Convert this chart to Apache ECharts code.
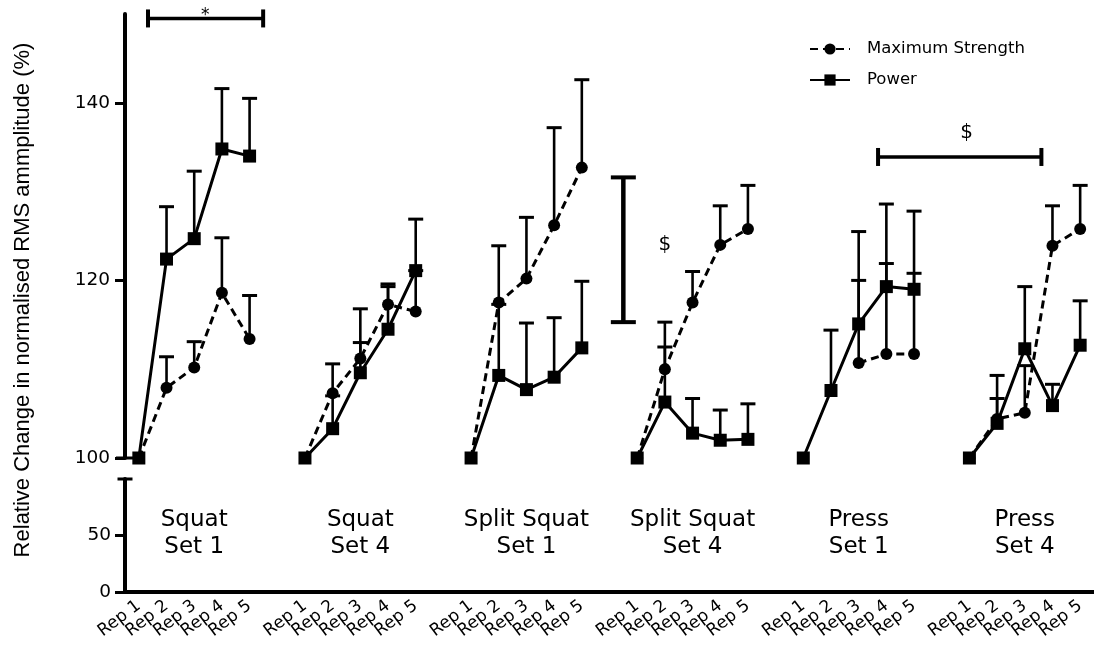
<!DOCTYPE html>
<html><head><meta charset="utf-8">
<script src="https://cdn.jsdelivr.net/npm/echarts@6/dist/echarts.min.js"></script>
<style>html,body{margin:0;padding:0;background:#fff}#c{width:1094px;height:647px}</style>
</head><body><div id="c"></div>
<script>
// ---------- data ----------
const repLabels = ['Rep 1','Rep 2','Rep 3','Rep 4','Rep 5'];
const groupNames = ['Squat\nSet 1','Squat\nSet 4','Split Squat\nSet 1','Split Squat\nSet 4','Press\nSet 1','Press\nSet 4'];
const msMean = [
  [100,107.9,110.2,118.6,113.4],
  [100,107.3,111.2,117.3,116.5],
  [100,117.5,120.2,126.2,132.7],
  [100,110.0,117.5,124.0,125.8],
  [null,null,110.7,111.7,111.7],
  [100,104.4,105.1,123.9,125.8]
];
const msUpper = [
  [null,111.4,113.1,124.8,118.3],
  [null,110.6,116.8,119.6,121.1],
  [null,123.9,127.1,137.2,142.6],
  [null,115.3,121.0,128.4,130.7],
  [null,null,120.0,121.9,120.8],
  [null,106.7,110.4,128.4,130.7]
];
const pwMean = [
  [100,122.4,124.7,134.8,134.0],
  [100,103.3,109.6,114.5,121.1],
  [100,109.3,107.7,109.1,112.4],
  [100,106.3,102.8,102.0,102.1],
  [100,107.6,115.1,119.3,119.0],
  [100,103.9,112.3,105.9,112.7]
];
const pwUpper = [
  [null,128.3,132.3,141.6,140.5],
  [null,107.0,113.0,119.3,126.9],
  [null,117.3,115.2,115.8,119.9],
  [null,112.5,106.7,105.4,106.1],
  [null,114.4,125.5,128.6,127.8],
  [null,109.3,119.3,108.3,117.7]
];
const upperTicks = [100,120,140];
const lowerTicks = [0,50];
// significance bars (x in category-index units, y in % units)
const sigStart = [0.33, 26.7];
const sigEnd = [4.49, 32.6];
const sigLevel = [149.5, 133.9];
const noteText = ['*','$','$'];
const noteX = [2.4, 29.9, 19];
const noteY = [149.8, 136.6, 124.0];
// vertical scale bar
const scaleBarX = 17.5;
const scaleBarLow = 115.3;
const scaleBarHigh = 131.6;
const groupLabelY = 52;

// ---------- build ----------
function flat(arr){const out=[];arr.forEach((g,i)=>{out.push(...g);if(i<arr.length-1)out.push(null);});return out;}
const categories = [];
groupNames.forEach((g,i)=>{categories.push(...repLabels); if(i<groupNames.length-1) categories.push('');});
const ms = flat(msMean), msU = flat(msUpper), pw = flat(pwMean), pwU = flat(pwUpper);
function errData(m,u){const d=[];m.forEach((v,i)=>{if(v!=null&&u[i]!=null)d.push([i,v,u[i]]);});return d;}
const groupLabelData = groupNames.map((n,i)=>[i*6+2, groupLabelY, n]);

const FONT = '"DejaVu Sans", Arial, sans-serif';
function errRender(params, api){
  const x=api.value(0), m=api.value(1), u=api.value(2);
  const p0=api.coord([x,m]), p1=api.coord([x,u]);
  const hw=7.5;
  return {type:'group',children:[
    {type:'line',shape:{x1:p0[0],y1:p0[1],x2:p1[0],y2:p1[1]},style:{stroke:'#000',lineWidth:2.6}},
    {type:'line',shape:{x1:p1[0]-hw,y1:p1[1],x2:p1[0]+hw,y2:p1[1]},style:{stroke:'#000',lineWidth:3}}
  ]};
}

const chart = echarts.init(document.getElementById('c'), null, {renderer:'canvas'});
chart.setOption({
  animation:false,
  backgroundColor:'#fff',
  textStyle:{fontFamily:FONT},
  grid:[
    {left:125, width:971, top:14, height:444},
    {left:125, width:971, top:479, height:113}
  ],
  legend:{
    data:['Maximum Strength','Power'],
    orient:'vertical', left:804, top:35,
    itemWidth:40, itemHeight:14, itemGap:13,
    textStyle:{fontFamily:FONT, fontSize:16.5, color:'#000', lineHeight:18, padding:[0,0,0,12]},
    inactiveColor:'#000'
  },
  xAxis:[
    {type:'category', gridIndex:0, data:categories, show:false},
    {type:'category', gridIndex:1, data:categories,
      axisLine:{onZero:false, lineStyle:{color:'#000', width:4}},
      axisTick:{alignWithLabel:true, length:9, lineStyle:{color:'#000', width:3},
        interval:(i)=>categories[i]!==''},
      axisLabel:{interval:0, rotate:37, fontFamily:FONT, fontSize:17, color:'#000', margin:12, hideOverlap:false}
    },
    {type:'value', gridIndex:0, min:-0.5, max:34.5, show:false}
  ],
  yAxis:[
    {type:'value', gridIndex:0, min:100, max:150, interval:10,
      splitLine:{show:false},
      axisLine:{show:true, onZero:false, lineStyle:{color:'#000', width:4}, symbol:['rect','none'], symbolSize:[18,3]},
      axisTick:{show:true, length:10, lineStyle:{color:'#000', width:3}, customValues:upperTicks},
      axisLabel:{fontFamily:FONT, fontSize:18.5, color:'#000', margin:15, customValues:upperTicks}
    },
    {type:'value', gridIndex:1, min:0, max:100, interval:50,
      splitLine:{show:false},
      axisLine:{show:true, onZero:false, lineStyle:{color:'#000', width:4}, symbol:['none','rect'], symbolSize:[15,3]},
      axisTick:{show:true, length:10, lineStyle:{color:'#000', width:3}, customValues:lowerTicks},
      axisLabel:{fontFamily:FONT, fontSize:18.5, color:'#000', margin:14, customValues:lowerTicks}
    }
  ],
  graphic:[
    {type:'text', x:23, y:300, rotation:Math.PI/2,
      style:{text:'Relative Change in normalised RMS ammplitude (%)', font:'22px "Liberation Sans", Arial, sans-serif',
        fill:'#000', textAlign:'center', textVerticalAlign:'middle', align:'center', verticalAlign:'middle'}}
  ],
  series:[
    {type:'custom', name:'msErr', xAxisIndex:0, yAxisIndex:0, data:errData(ms,msU), renderItem:errRender, z:2, silent:true},
    {type:'custom', name:'pwErr', xAxisIndex:0, yAxisIndex:0, data:errData(pw,pwU), renderItem:errRender, z:2, silent:true},
    {type:'line', name:'Maximum Strength', xAxisIndex:0, yAxisIndex:0, data:ms, connectNulls:false,
      symbol:'circle', symbolSize:12, showAllSymbol:true,
      lineStyle:{color:'#000', width:3, type:[8,5]}, itemStyle:{color:'#000'}, z:3},
    {type:'line', name:'Power', xAxisIndex:0, yAxisIndex:0, data:pw, connectNulls:false,
      symbol:'rect', symbolSize:13, showAllSymbol:true,
      lineStyle:{color:'#000', width:3, type:'solid'}, itemStyle:{color:'#000'}, z:4},
    {type:'custom', name:'sig', xAxisIndex:2, yAxisIndex:0, clip:false, silent:true,
      data:sigStart.map((s,i)=>[s, sigEnd[i], sigLevel[i]]),
      renderItem:(params, api)=>{
        const a=api.coord([api.value(0), api.value(2)]), b=api.coord([api.value(1), api.value(2)]);
        const h=9;
        return {type:'group',children:[
          {type:'line',shape:{x1:a[0],y1:a[1],x2:b[0],y2:b[1]},style:{stroke:'#000',lineWidth:3.5}},
          {type:'line',shape:{x1:a[0],y1:a[1]-h,x2:a[0],y2:a[1]+h},style:{stroke:'#000',lineWidth:4}},
          {type:'line',shape:{x1:b[0],y1:b[1]-h,x2:b[0],y2:b[1]+h},style:{stroke:'#000',lineWidth:4}}
        ]};
      }},
    {type:'custom', name:'notes', xAxisIndex:2, yAxisIndex:0, clip:false, silent:true,
      data:noteText.map((t,i)=>[noteX[i], noteY[i], t]),
      renderItem:(params, api)=>{
        const p=api.coord([api.value(0), api.value(1)]);
        const t=noteText[params.dataIndex];
        return {type:'text', x:p[0], y:p[1],
          style:{text:t, font:(t==='*'?'17px ':'20px ')+FONT, fill:'#000',
            textAlign:'center', textVerticalAlign:'middle', align:'center', verticalAlign:'middle'}};
      }},
    {type:'custom', name:'scalebar', xAxisIndex:2, yAxisIndex:0, clip:false, silent:true,
      data:[[scaleBarX, scaleBarLow, scaleBarHigh]],
      renderItem:(params, api)=>{
        const a=api.coord([api.value(0), api.value(1)]), b=api.coord([api.value(0), api.value(2)]);
        const hw=12.5;
        return {type:'group',children:[
          {type:'line',shape:{x1:a[0],y1:a[1],x2:b[0],y2:b[1]},style:{stroke:'#000',lineWidth:4.5}},
          {type:'line',shape:{x1:a[0]-hw,y1:a[1],x2:a[0]+hw,y2:a[1]},style:{stroke:'#000',lineWidth:4}},
          {type:'line',shape:{x1:b[0]-hw,y1:b[1],x2:b[0]+hw,y2:b[1]},style:{stroke:'#000',lineWidth:4}}
        ]};
      }},
    {type:'custom', name:'groups', xAxisIndex:1, yAxisIndex:1, clip:false, silent:true,
      data:groupLabelData,
      renderItem:(params, api)=>{
        const p=api.coord([api.value(0), api.value(1)]);
        return {type:'text', x:p[0], y:p[1],
          style:{text:groupNames[params.dataIndex], font:'23px '+FONT, fill:'#000', lineHeight:27,
            textAlign:'center', textVerticalAlign:'middle', align:'center', verticalAlign:'middle'}};
      }}
  ]
});
</script></body></html>
